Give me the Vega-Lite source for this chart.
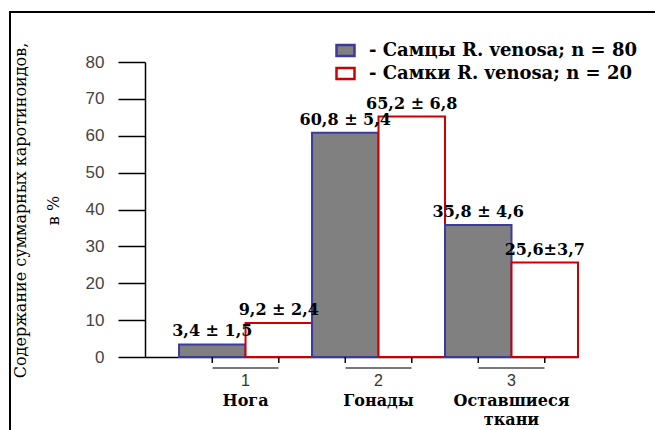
{
  "$schema": "https://vega.github.io/schema/vega-lite/v6.json",
  "width": 646,
  "height": 420,
  "autosize": {"type": "none"},
  "padding": {"left": 10, "top": 12, "right": 0, "bottom": 0},
  "background": "white",
  "config": {"view": {"stroke": "black", "strokeWidth": 2}},
  "datasets": {
    "bars": [
      {"group": "1", "sex": "Самцы", "value": 3.4, "label": "3,4 ± 1,5"},
      {"group": "1", "sex": "Самки", "value": 9.2, "label": "9,2 ± 2,4"},
      {"group": "2", "sex": "Самцы", "value": 60.8, "label": "60,8 ± 5,4"},
      {"group": "2", "sex": "Самки", "value": 65.2, "label": "65,2 ± 6,8"},
      {"group": "3", "sex": "Самцы", "value": 35.8, "label": "35,8 ± 4,6"},
      {"group": "3", "sex": "Самки", "value": 25.6, "label": "25,6±3,7"}
    ],
    "groups": [
      {"group": "1", "name": "Нога"},
      {"group": "2", "name": "Гонады"},
      {"group": "3", "name": "Оставшиеся\nткани"}
    ]
  },
  "encoding": {
    "x": {
      "field": "group",
      "type": "nominal",
      "scale": {"domain": ["1", "2", "3"], "range": [135, 568], "paddingInner": 0, "paddingOuter": 0.128, "align": 1},
      "axis": {"orient": "bottom", "offset": -75, "title": null, "labels": false, "ticks": false, "domain": true, "domainColor": "black", "domainWidth": 1.5}
    }
  },
  "layer": [
    {
      "data": {"name": "bars"},
      "mark": {"type": "bar", "strokeWidth": 2},
      "encoding": {
        "xOffset": {"field": "sex", "type": "nominal", "scale": {"domain": ["Самцы", "Самки"], "paddingInner": 0, "paddingOuter": 0}},
        "y": {
          "field": "value",
          "type": "quantitative",
          "scale": {"domain": [0, 80], "range": [345, 50], "nice": false, "zero": true},
          "axis": {
            "title": ["Содержание суммарных каротиноидов,", "в %"],
            "offset": -135,
            "values": [0, 5, 10, 15, 20, 25, 30, 35, 40, 45, 50, 55, 60, 65, 70, 75, 80],
            "tickSize": {"condition": {"test": "datum.value % 10 === 0", "value": 27}, "value": 12},
            "labelExpr": "datum.value % 10 === 0 ? datum.label : ''",
            "labelFont": "Liberation Sans",
            "labelFontSize": 17,
            "labelColor": "#444444",
            "labelPadding": 14,
            "tickColor": "black",
            "tickWidth": 1.5,
            "domainColor": "black",
            "domainWidth": 1.5,
            "grid": false,
            "titleFont": "DejaVu Serif",
            "titleFontSize": 16,
            "titleFontWeight": "normal",
            "titleColor": "black",
            "titleX": -133,
            "titleY": 198,
            "titleAngle": -90,
            "titleBaseline": "top",
            "titleAlign": "center",
            "titleLineHeight": 33
          }
        },
        "fill": {
          "field": "sex",
          "type": "nominal",
          "scale": {"domain": ["Самцы", "Самки"], "range": ["#808080", "#ffffff"]},
          "legend": {
            "title": null, "orient": "none", "legendX": 325, "legendY": 28, "padding": 0,
            "symbolType": "M-1,-0.6H1V0.6H-1Z", "symbolSize": 324, "symbolStrokeWidth": 2.5,
            "labelFont": "DejaVu Serif", "labelFontWeight": "bold", "labelFontSize": 18, "labelColor": "black",
            "labelOffset": 13, "rowPadding": 2, "labelLimit": 400,
            "labelExpr": "datum.label == 'Самцы' ? '- Самцы R. venosa; n = 80' : '- Самки R. venosa; n = 20'"
          }
        },
        "stroke": {
          "field": "sex",
          "type": "nominal",
          "scale": {"domain": ["Самцы", "Самки"], "range": ["#3b3b9c", "#cc0000"]},
          "legend": {
            "title": null, "orient": "none", "legendX": 325, "legendY": 28, "padding": 0,
            "symbolType": "M-1,-0.6H1V0.6H-1Z", "symbolSize": 324, "symbolStrokeWidth": 2.5,
            "labelFont": "DejaVu Serif", "labelFontWeight": "bold", "labelFontSize": 18, "labelColor": "black",
            "labelOffset": 13, "rowPadding": 2, "labelLimit": 400,
            "labelExpr": "datum.label == 'Самцы' ? '- Самцы R. venosa; n = 80' : '- Самки R. venosa; n = 20'"
          }
        }
      }
    },
    {
      "data": {"name": "bars"},
      "mark": {"type": "text", "font": "DejaVu Serif", "fontWeight": "bold", "fontSize": 16, "baseline": "alphabetic", "dy": -8, "color": "black"},
      "encoding": {
        "xOffset": {"field": "sex", "type": "nominal"},
        "y": {"field": "value", "type": "quantitative"},
        "text": {"field": "label"}
      }
    },
    {
      "data": {"name": "bars"},
      "mark": {"type": "rule", "color": "black", "strokeWidth": 1.5, "y2Offset": 6},
      "encoding": {
        "xOffset": {"field": "sex", "type": "nominal"},
        "y": {"datum": 0},
        "y2": {"datum": 0}
      }
    },
    {
      "data": {"name": "groups"},
      "mark": {"type": "tick", "orient": "horizontal", "size": 66, "thickness": 1.5, "color": "black", "yOffset": 11},
      "encoding": {"y": {"datum": 0}}
    },
    {
      "data": {"name": "groups"},
      "mark": {"type": "text", "font": "Liberation Sans", "fontSize": 16, "color": "#333333", "baseline": "alphabetic", "dy": 29},
      "encoding": {"y": {"datum": 0}, "text": {"field": "group"}}
    },
    {
      "data": {"name": "groups"},
      "mark": {"type": "text", "font": "DejaVu Serif", "fontWeight": "bold", "fontSize": 16, "color": "black", "baseline": "alphabetic", "dy": 49, "lineBreak": "\n", "lineHeight": 19},
      "encoding": {"y": {"datum": 0}, "text": {"field": "name"}}
    }
  ]
}
